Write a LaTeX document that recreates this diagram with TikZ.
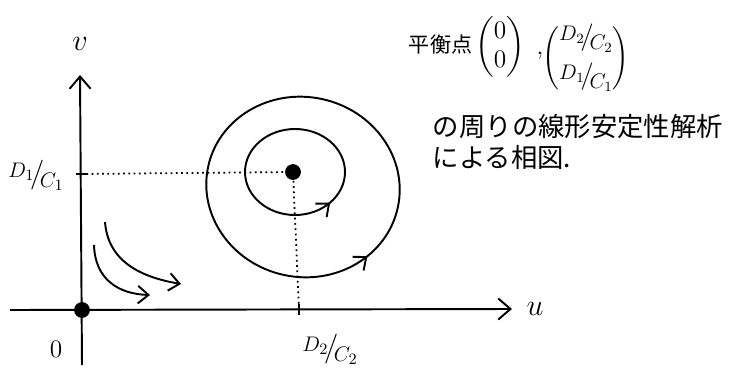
\documentclass[tikz,border=0pt]{standalone}
\usepackage{amsmath}
\usepackage{fontspec}
\newfontfamily\jpfont{Noto Sans CJK JP}
\usetikzlibrary{arrows.meta, positioning, decorations.markings}
\newcommand{\dcfrac}[2]{\raisebox{0.45ex}{$#1$}\kern-0.2em\scalebox{1.3}{/}\kern-0.2em\raisebox{-0.5ex}{$#2$}}

\begin{document}
\begin{tikzpicture}[
  x=0.02cm, y=0.02cm,
  line width=1.1pt,
  axis/.style={-{Straight Barb[length=7pt, width=12pt]}},
  flow/.style={-{Straight Barb[length=6pt, width=10pt]}},
  guide/.style={dotted, line width=1pt},
  eqpt/.style={circle, fill=black, inner sep=0pt, minimum size=9pt},
  jptext/.style={font=\jpfont\fontsize{15}{18}\selectfont, anchor=west, inner sep=0pt},
  frlabel/.style={font=\fontsize{13}{16}\selectfont, inner sep=0pt},
  orbit/.style={postaction={decorate}, decoration={markings,
                mark=at position #1 with {\arrow{Straight Barb[length=6pt, width=10pt]}}}}
]
\useasboundingbox (0,0) rectangle (745,387);

% Axes
\coordinate (uL) at (10,77);
\coordinate (uR) at (512,78);
\coordinate (vB) at (82,22);
\coordinate (vT) at (80,312);
\draw[axis] (uL) -- (uR);
\draw[axis] (vB) -- (vT);
\node (ulab) at (535,78) {\LARGE$u$};
\node (vlab) at (80,343) {\LARGE$v$};
\node (zero) at (56,38) {\Large$0$};

% Equilibria
\node[eqpt] (orig) at (82,77) {};
\node[eqpt] (eq) at (293,215) {};

% Ticks and guides
\coordinate (vtick) at (81,213);
\coordinate (utick) at (299,77);
\draw (76,213) -- (87,213);
\draw (299,72) -- (299,83);
\draw[guide] (vtick) -- (eq);
\draw[guide] (eq) -- (utick);
\node[frlabel] (d1c1) at (36,212) {\dcfrac{D_1}{C_1}};
\node[frlabel] (d2c2) at (330,38) {\dcfrac{D_2}{C_2}};

% Orbits round the centre
\draw[orbit=0.88] (295,215) ellipse [x radius=50, y radius=43];
\draw[orbit=0.90, rotate around={-12:(303,200)}] (303,200) ellipse [x radius=97, y radius=90];

% Flows near the origin
\coordinate (a0) at (94,142);
\coordinate (a1) at (150,92);
\coordinate (b0) at (105,165);
\coordinate (b1) at (181,103);
\draw[flow] (a0) .. controls (95,108) and (118,93) .. (a1);
\draw[flow] (b0) .. controls (108,126) and (140,110) .. (b1);

% Caption
\node[jptext, font=\jpfont\fontsize{12}{15}\selectfont] (title) at (408,342) {平衡点};
\node[inner sep=0pt, font=\fontsize{14}{17}\selectfont] (p0) at (500,340)
  {$\begin{pmatrix}0\\0\end{pmatrix}$};
\node[inner sep=0pt, font=\fontsize{14}{17}\selectfont] (comma) at (540,331) {,};
\node[inner sep=0pt, font=\fontsize{12}{15}\selectfont] (p1) at (586,329)
  {$\left(\begin{matrix}\dcfrac{D_2}{C_2}\\[6pt]\dcfrac{D_1}{C_1}\end{matrix}\right)$};
\node[jptext] (line2) at (432,260) {の周りの線形安定性解析};
\node[jptext] (line3) at (432,230) {による相図.};

\end{tikzpicture}
\end{document}
